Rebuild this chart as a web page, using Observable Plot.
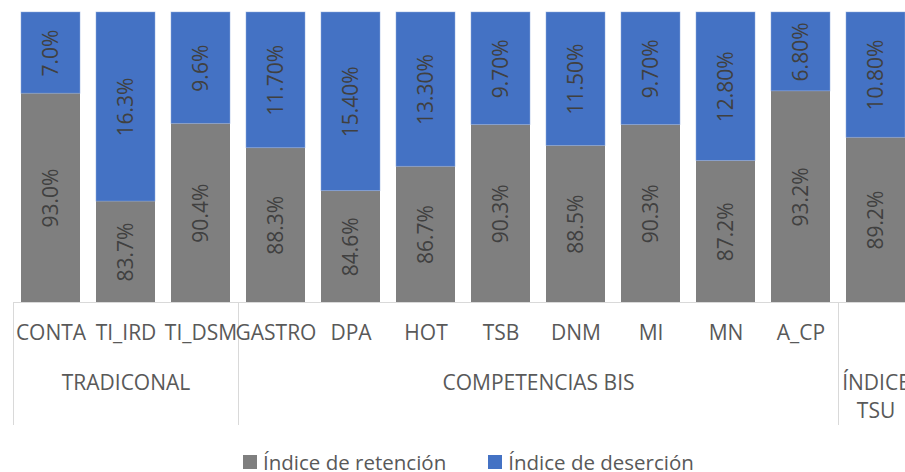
<!DOCTYPE html>
<html>
<head>
<meta charset="utf-8">
<script src="https://cdn.jsdelivr.net/npm/d3@7"></script>
<script src="https://cdn.jsdelivr.net/npm/@observablehq/plot@0.6"></script>
<style>
  html, body { margin: 0; padding: 0; background: #fff; overflow: hidden; }
  #wrap { position: relative; width: 905px; height: 472px; overflow: hidden; font-family: "Open Sans", sans-serif; }
  #legend { position: absolute; left: 243px; top: 448px; display: flex; align-items: center; font-size: 20.5px; line-height: 28px; color: #595959; white-space: nowrap; }
  #legend .sw { display: inline-block; width: 14px; height: 14px; margin-right: 6px; flex: none; }
  #legend .item { display: flex; align-items: center; margin-right: 40px; padding-right: 2px; }
</style>
</head>
<body>
<div id="wrap"><div id="chart"></div><div id="legend"></div></div>
<script>
const categories = ["CONTA","TI_IRD","TI_DSM","GASTRO","DPA","HOT","TSB","DNM","MI","MN","A_CP","ÍNDICE TSU"];
const categoryLabels = ["CONTA","TI_IRD","TI_DSM","GASTRO","DPA","HOT","TSB","DNM","MI","MN","A_CP",""];
const retention = [93.0,83.7,90.4,88.3,84.6,86.7,90.3,88.5,90.3,87.2,93.2,89.2];
const desertion = [7.0,16.3,9.6,11.7,15.4,13.3,9.7,11.5,9.7,12.8,6.8,10.8];
const retentionLabels = ["93.0%","83.7%","90.4%","88.3%","84.6%","86.7%","90.3%","88.5%","90.3%","87.2%","93.2%","89.2%"];
const desertionLabels = ["7.0%","16.3%","9.6%","11.70%","15.40%","13.30%","9.70%","11.50%","9.70%","12.80%","6.80%","10.80%"];
const groupNames = ["TRADICONAL","COMPETENCIAS BIS","ÍNDICE\nTSU"];
const groupStart = ["CONTA","GASTRO","ÍNDICE TSU"];
const groupSize = [3,8,1];
const seriesNames = ["Índice de retención","Índice de deserción"];
const seriesColors = ["#7f7f7f","#4472c4"];
const yDomain = [75, 100];

const data = categories.map((c, i) => ({
  cat: c, label: categoryLabels[i],
  ret: retention[i], des: desertion[i],
  retLabel: retentionLabels[i], desLabel: desertionLabels[i]
}));

const step = 75;
const groupMarks = groupNames.map((g, i) =>
  Plot.text([g], {
    x: () => groupStart[i],
    dx: (groupSize[i] - 1) * step / 2,
    frameAnchor: "bottom", dy: 68, lineAnchor: "top", lineHeight: 1.33,
    text: d => d, fontSize: 21, fill: "#595959"
  })
);

const font = "Open Sans";
const plot = Plot.plot({
  width: 915, height: 440,
  marginTop: 12, marginBottom: 138, marginLeft: 13, marginRight: 2,
  style: { fontFamily: font, maxWidth: "none", overflow: "visible", background: "#fff" },
  x: { domain: categories, paddingInner: 0.22, paddingOuter: 0.11, axis: null },
  y: { domain: yDomain, clamp: true, axis: null },
  marks: [
    Plot.barY(data, { x: "cat", y1: yDomain[0], y2: "ret", fill: seriesColors[0] }),
    Plot.barY(data, { x: "cat", y1: "ret", y2: d => d.ret + d.des, fill: seriesColors[1], stroke: "#8faadc", strokeWidth: 0.8, strokeOpacity: 0.6 }),
    Plot.ruleY([yDomain[0]], { stroke: "#d9d9d9", strokeWidth: 1 }),
    Plot.ruleX(groupStart, { x: d => d, dx: -step / 2, stroke: "#d9d9d9", strokeWidth: 1, insetTop: 290, insetBottom: -123 }),
    Plot.text(data, { x: "cat", y: d => (yDomain[0] + d.ret) / 2, text: "retLabel", rotate: -90, fontSize: 21, fill: "#404040" }),
    Plot.text(data, { x: "cat", y: d => (d.ret + yDomain[1]) / 2, text: "desLabel", rotate: -90, fontSize: 21, fill: "#404040" }),
    Plot.text(data, { x: "cat", frameAnchor: "bottom", lineAnchor: "middle", dy: 31, text: "label", fontSize: 21, fill: "#595959" }),
    ...groupMarks
  ]
});
document.getElementById("chart").appendChild(plot);

const legend = document.getElementById("legend");
seriesNames.forEach((n, i) => {
  const it = document.createElement("span");
  it.className = "item";
  it.innerHTML = `<span class="sw" style="background:${seriesColors[i]}"></span><span>${n}</span>`;
  legend.appendChild(it);
});
</script>
</body>
</html>
